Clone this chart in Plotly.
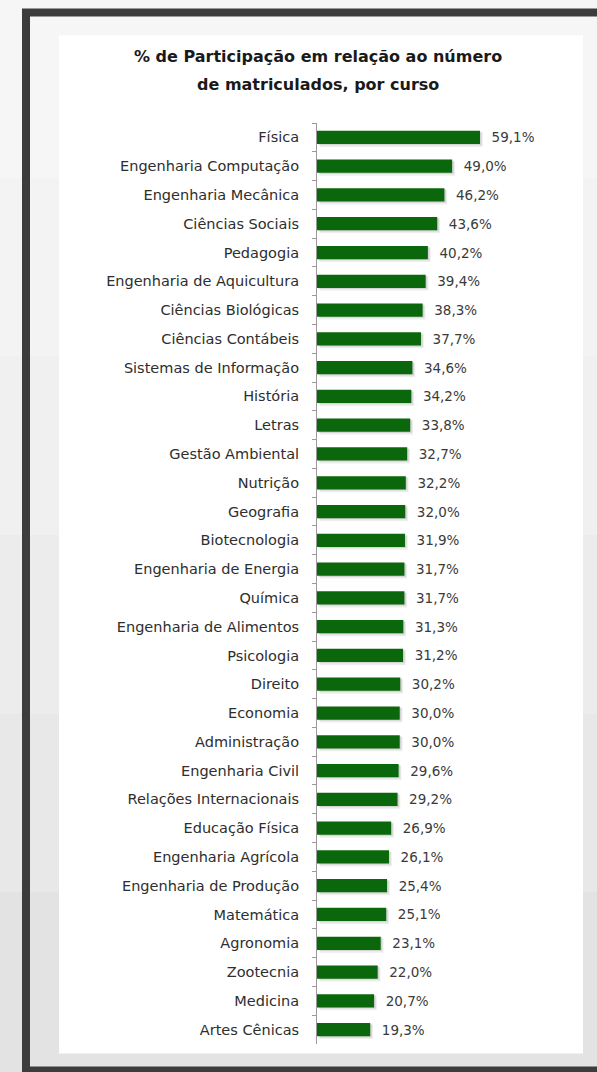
import plotly.graph_objects as go

W, H = 597, 1072
L, R, T, B = 317, 37, 122.6, 27.6
PW, PH = W - L - R, H - T - B

courses = ["Física", "Engenharia Computação", "Engenharia Mecânica", "Ciências Sociais",
           "Pedagogia", "Engenharia de Aquicultura", "Ciências Biológicas", "Ciências Contábeis",
           "Sistemas de Informação", "História", "Letras", "Gestão Ambiental", "Nutrição",
           "Geografia", "Biotecnologia", "Engenharia de Energia", "Química",
           "Engenharia de Alimentos", "Psicologia", "Direito", "Economia", "Administração",
           "Engenharia Civil", "Relações Internacionais", "Educação Física",
           "Engenharia Agrícola", "Engenharia de Produção", "Matemática", "Agronomia",
           "Zootecnia", "Medicina", "Artes Cênicas"]
values = [59.1, 49.0, 46.2, 43.6, 40.2, 39.4, 38.3, 37.7, 34.6, 34.2, 33.8, 32.7, 32.2,
          32.0, 31.9, 31.7, 31.7, 31.3, 31.2, 30.2, 30.0, 30.0, 29.6, 29.2, 26.9, 26.1,
          25.4, 25.1, 23.1, 22.0, 20.7, 19.3]
labels = ["\u00a0\u00a0" + f"{v:.1f}".replace(".", ",") + "%" for v in values]
title_lines = ["% de Participação em relação ao número", "de matriculados, por curso"]

FONT = "DejaVu Sans"


def px(x):
    return (x - L) / PW


def py(y):
    return (H - B - y) / PH


fig = go.Figure()

# soft shadow layers
for base, off, w, a in [(1.0, -0.17, 0.5, 0.07), (0.6, -0.2, 0.47, 0.10)]:
    fig.add_trace(go.Bar(
        y=courses, x=values, orientation="h", base=base,
        marker=dict(color=f"rgba(0,0,0,{a})", line=dict(width=0)),
        width=w, offset=off, hoverinfo="skip", showlegend=False,
    ))
fig.add_trace(go.Bar(
    y=courses, x=values, orientation="h",
    marker=dict(color="#0b670b", line=dict(width=0)),
    width=0.46,
    text=labels, textposition="outside", cliponaxis=False, constraintext="none",
    textfont=dict(family=FONT, size=13.5, color="#3a3a3a"),
    showlegend=False,
))

shapes = []
grays = ["#f6f6f6", "#f3f3f3", "#f0f0f0", "#ececec", "#e8e8e8", "#e3e3e3"]
n = len(grays)
for i, g in enumerate(grays):
    shapes.append(dict(type="rect", xref="paper", yref="paper", layer="below",
                       x0=px(-5), x1=px(W + 5), y0=py(H * i / n - 1), y1=py(H * (i + 1) / n + 1),
                       fillcolor=g, line=dict(width=0)))
# dark frame
shapes.append(dict(type="rect", xref="paper", yref="paper", layer="below",
                   x0=px(22), x1=px(W + 20), y0=py(8), y1=py(H + 20),
                   fillcolor="#3c3c3c", line=dict(width=0)))
for i, g in enumerate(grays):
    y0 = max(16, H * i / n - 1)
    y1 = min(1067, H * (i + 1) / n + 1)
    if y1 > y0:
        shapes.append(dict(type="rect", xref="paper", yref="paper", layer="below",
                           x0=px(30), x1=px(W + 20), y0=py(y0), y1=py(y1),
                           fillcolor=g, line=dict(width=0)))
# white panel
shapes.append(dict(type="rect", xref="paper", yref="paper", layer="below",
                   x0=px(59), x1=px(583), y0=py(35), y1=py(1054),
                   fillcolor="#ffffff", line=dict(width=0)))

annotations = []
for txt, yc in zip(title_lines, [56, 84]):
    annotations.append(dict(text=txt, xref="paper", yref="paper", x=px(318), y=py(yc),
                            xanchor="center", yanchor="middle", showarrow=False,
                            font=dict(family=FONT, size=16, color="#1a1a1a", weight="bold")))

fig.update_layout(
    width=W, height=H,
    margin=dict(l=L, r=R, t=T, b=B, pad=0),
    paper_bgcolor="#eeeeee", plot_bgcolor="rgba(0,0,0,0)",
    barmode="overlay",
    shapes=shapes,
    annotations=annotations,
    xaxis=dict(range=[0, PW / 2.758], visible=False, fixedrange=True),
    yaxis=dict(autorange="reversed", showline=True, linecolor="#9a9a9a", linewidth=1,
               ticks="outside", tickson="boundaries", ticklen=4, tickcolor="#9a9a9a",
               ticklabelstandoff=14, showgrid=False, zeroline=False, fixedrange=True,
               tickfont=dict(family=FONT, size=14.5, color="#2e2e2e")),
)

fig.write_html("out.html", config={"displayModeBar": False},
               post_script="document.body.style.margin='0';")
